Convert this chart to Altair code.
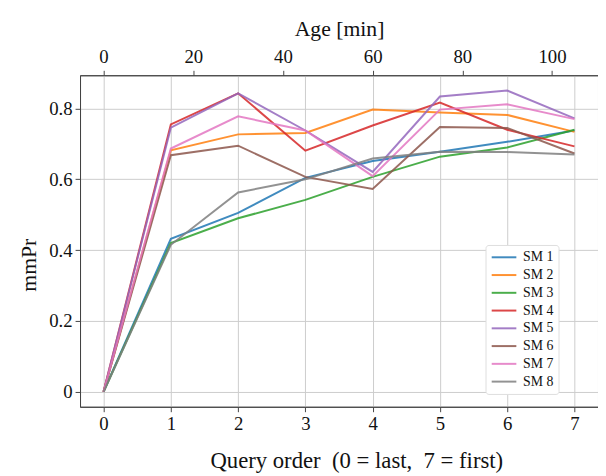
import altair as alt
import pandas as pd

order = [0, 1, 2, 3, 4, 5, 6, 7]
age_ticks = [0, 20, 40, 60, 80, 100]
y_ticks = [0, 0.2, 0.4, 0.6, 0.8]
series = ["SM 1", "SM 2", "SM 3", "SM 4", "SM 5", "SM 6", "SM 7", "SM 8"]
colors = ["#1f77b4", "#ff7f0e", "#2ca02c", "#d62728",
          "#9467bd", "#8c564b", "#e377c2", "#7f7f7f"]

sm1 = [0, 0.432, 0.505, 0.604, 0.652, 0.678, 0.706, 0.738]
sm2 = [0, 0.682, 0.727, 0.731, 0.797, 0.789, 0.782, 0.734]
sm3 = [0, 0.420, 0.490, 0.542, 0.607, 0.664, 0.690, 0.740]
sm4 = [0, 0.755, 0.843, 0.681, 0.752, 0.817, 0.740, 0.693]
sm5 = [0, 0.746, 0.843, 0.738, 0.621, 0.834, 0.851, 0.772]
sm6 = [0, 0.668, 0.695, 0.607, 0.573, 0.748, 0.745, 0.673]
sm7 = [0, 0.687, 0.778, 0.738, 0.609, 0.797, 0.812, 0.770]
sm8 = [0, 0.415, 0.563, 0.600, 0.659, 0.678, 0.677, 0.670]
values = [sm1, sm2, sm3, sm4, sm5, sm6, sm7, sm8]

rows = []
for name, vals in zip(series, values):
    for o, v in zip(order, vals):
        rows.append({"order": o, "value": v, "series": name})
df = pd.DataFrame(rows)

df_age = pd.DataFrame({"age": [o * 15 for o in order]})

FONT = "Liberation Serif"

lines = alt.Chart(df).mark_line(strokeWidth=2, opacity=0.85).encode(
    x=alt.X("order:Q",
            scale=alt.Scale(domain=[-0.35, 7.35], nice=False, zero=False),
            axis=alt.Axis(values=order, format="d",
                          title="Query order\u00a0 (0 = last,\u00a0 7 = first)",
                          orient="bottom", grid=True, labelPadding=3, titlePadding=17,
                          titleFontSize=23, titleX=280)),
    y=alt.Y("value:Q",
            scale=alt.Scale(domain=[-0.0425, 0.894], nice=False, zero=False),
            axis=alt.Axis(values=y_ticks, format="~g", title="mmPr", grid=True,
                          labelPadding=3, titlePadding=8, titleY=192)),
    color=alt.Color("series:N",
                    scale=alt.Scale(domain=series, range=colors),
                    legend=alt.Legend(title=None, orient="none", legendX=411, legendY=172,
                                      symbolType="M-1,0L3,0", symbolStrokeWidth=2,
                                      symbolSize=156, labelFontSize=14, labelFont=FONT,
                                      labelColor="#111111",
                                      labelExpr="datum.label + '\u00a0\u00a0\u00a0\u00a0'",
                                      fillColor="white", strokeColor="#dddddd",
                                      cornerRadius=3, padding=5, rowPadding=3,
                                      labelOffset=18, symbolOpacity=0.85)),
    detail="series:N",
)

top = alt.Chart(df_age).mark_point(opacity=0).encode(
    x=alt.X("age:Q",
            scale=alt.Scale(domain=[-0.35 * 15, 7.35 * 15], nice=False, zero=False),
            axis=alt.Axis(values=age_ticks, format="d", title="Age [min]", orient="top",
                          grid=False, labelPadding=4, titlePadding=7)),
)

chart = alt.layer(lines, top).resolve_scale(x="independent").properties(
    width=525, height=336,
    padding={"left": 73, "top": 65, "right": 0, "bottom": 67},
    autosize=alt.AutoSizeParams(type="none"),
).configure_view(
    stroke="#444444", strokeWidth=1
).configure_axis(
    labelFont=FONT, titleFont=FONT, labelFontSize=19, titleFontSize=22,
    titleFontWeight="normal", labelColor="#111111", titleColor="#111111",
    domainColor="#444444", tickColor="#444444", tickSize=5,
    gridColor="#cccccc", gridWidth=1,
)

chart.save("out.html", embed_options={"renderer": "svg", "actions": False})
